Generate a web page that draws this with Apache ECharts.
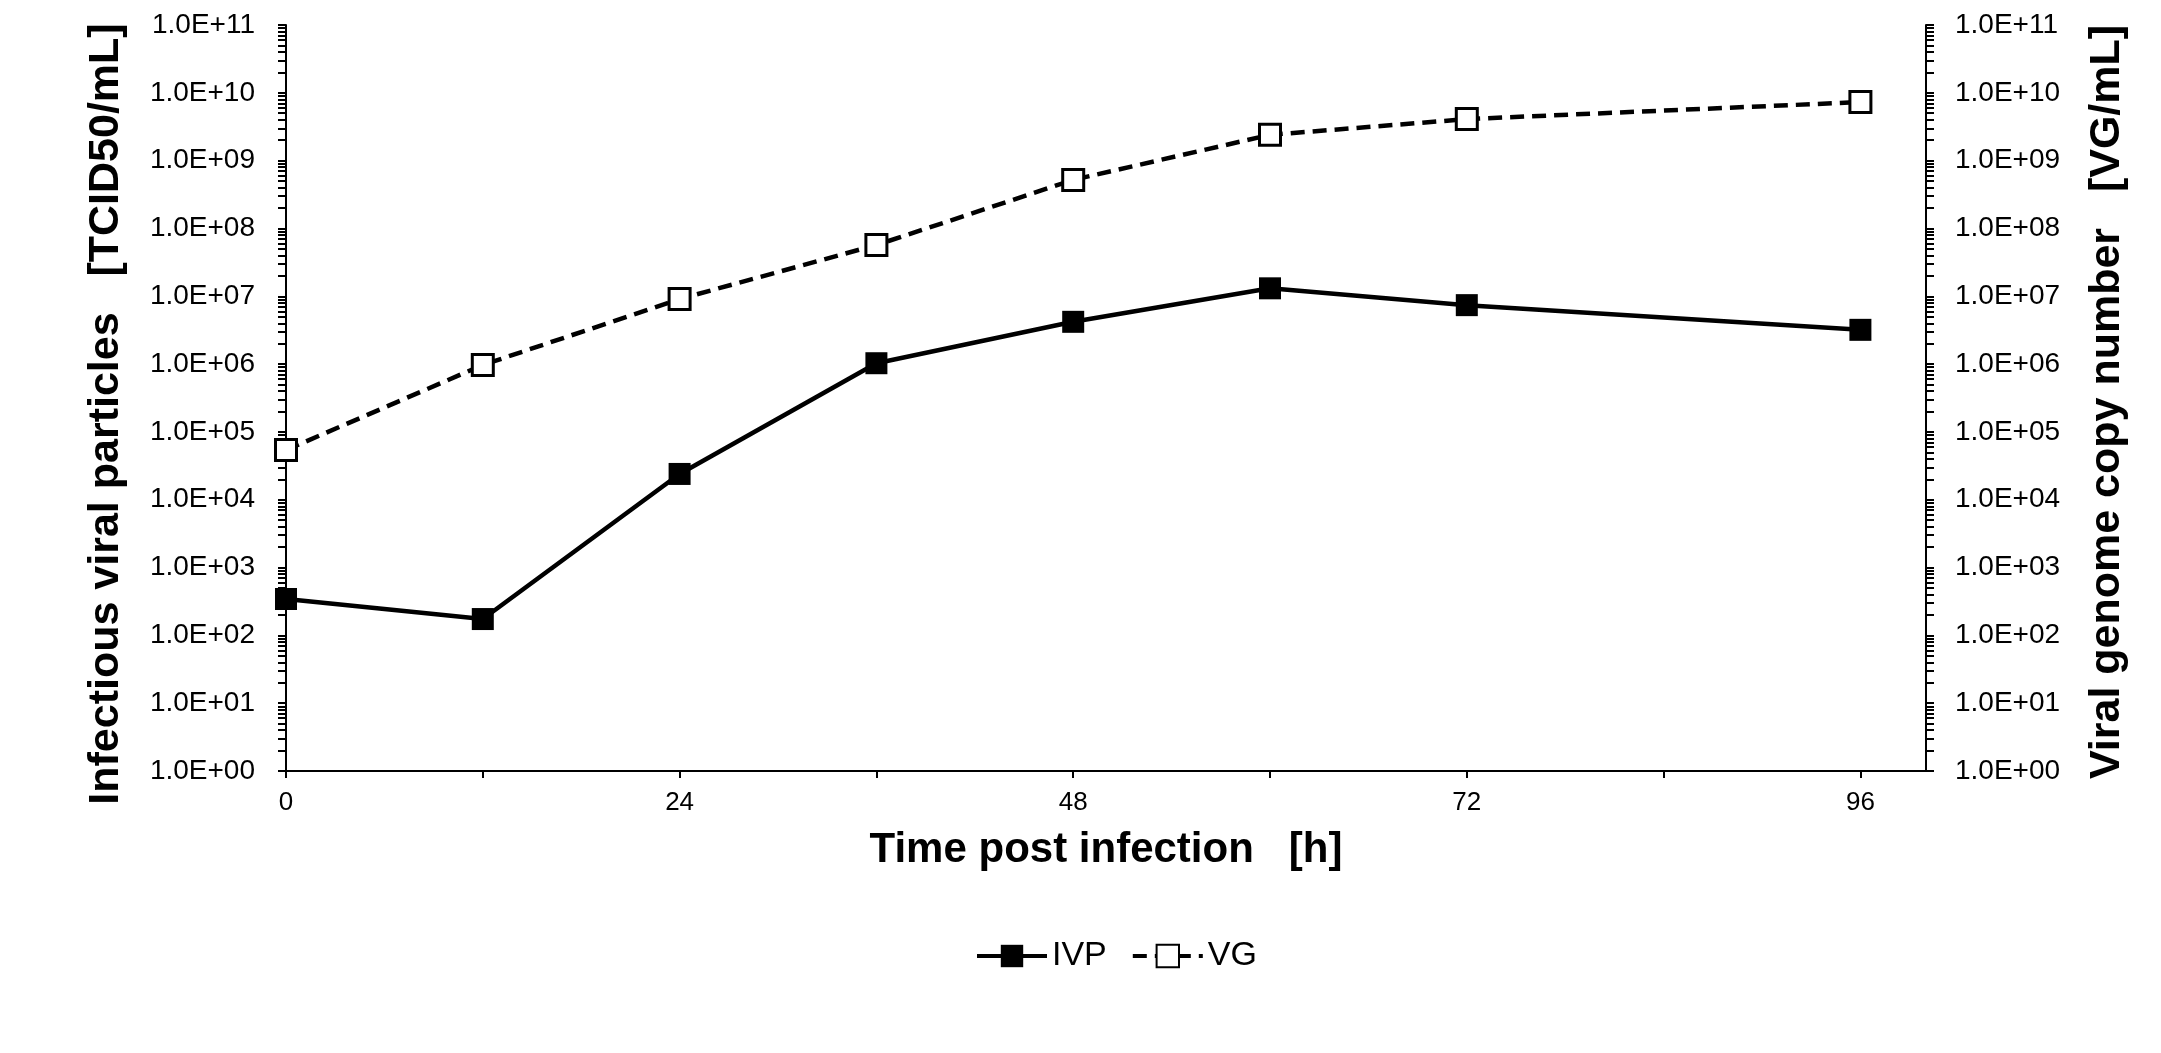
<!DOCTYPE html>
<html><head><meta charset="utf-8">
<script src="https://cdn.jsdelivr.net/npm/echarts@6/dist/echarts.min.js"></script>
<style>html,body{margin:0;padding:0;background:#fff}#c{width:2161px;height:1053px}</style>
</head><body><div id="c"></div>
<script>
// Data
const hours = [0, 12, 24, 36, 48, 60, 72, 96];
const ivp = [344, 174, 2.4e4, 1.03e6, 4.2e6, 1.31e7, 7.4e6, 3.2e6];
const vg = [5.4e4, 9.7e5, 9.1e6, 5.7e7, 5.2e8, 2.4e9, 4.1e9, 7.3e9];
const seriesNames = ['IVP', 'VG'];

// Axis ticks / labels
const xTickValues = [0, 12, 24, 36, 48, 60, 72, 84, 96];
const xLabelValues = [0, 24, 48, 72, 96];
const yExponents = [0, 1, 2, 3, 4, 5, 6, 7, 8, 9, 10, 11];
const yLabelTexts = ['1.0E+00','1.0E+01','1.0E+02','1.0E+03','1.0E+04','1.0E+05','1.0E+06','1.0E+07','1.0E+08','1.0E+09','1.0E+10','1.0E+11'];
const minorFactors = [1, 2, 3, 4, 5, 6, 7, 8, 9];

const xTitle = 'Time post infection   [h]';
const yLeftTitle = 'Infectious viral particles   [TCID50/mL]';
const yRightTitle = 'Viral genome copy number   [VG/mL]';

const FONT = '"Liberation Sans", Arial, sans-serif';
const yLabelValues = yExponents.map(e => Math.pow(10, e));
const yTickValues = [];
yExponents.forEach(e => {
  if (e === 11) { yTickValues.push(Math.pow(10, e)); return; }
  minorFactors.forEach(f => yTickValues.push(f * Math.pow(10, e)));
});
function yFmt(v) {
  const e = Math.round(Math.log10(v));
  const i = yExponents.indexOf(e);
  return i >= 0 ? yLabelTexts[i] : '';
}

function yAxis(pos, title) {
  return {
    type: 'log', logBase: 10, min: 1, max: 1e11, interval: 1,
    position: pos,
    name: title, nameLocation: 'middle', nameRotate: 90,
    nameGap: pos === 'left' ? 158 : 160,
    nameTextStyle: { fontFamily: FONT, fontSize: 43, fontWeight: 'bold', color: '#000',
      padding: pos === 'left' ? [0, 32, 0, 0] : [0, 8, 0, 0] },
    axisLine: { show: true, onZero: false, lineStyle: { color: '#000', width: 2 } },
    axisTick: { show: true, inside: false, length: 8, customValues: yTickValues, lineStyle: { color: '#000', width: 2 } },
    axisLabel: { show: true, customValues: yLabelValues, formatter: yFmt, margin: pos === 'left' ? 31 : 29,
      fontFamily: FONT, fontSize: 28, color: '#000' },
    splitLine: { show: false }, minorTick: { show: false }
  };
}

const chart = echarts.init(document.getElementById('c'), null, { renderer: 'canvas' });
chart.setOption({
  animation: false,
  backgroundColor: '#fff',
  grid: { left: 286, right: 235, top: 25, bottom: 282, containLabel: false },
  xAxis: {
    type: 'value', min: 0, max: 100, interval: 12,
    name: xTitle, nameLocation: 'middle', nameGap: 58,
    nameTextStyle: { fontFamily: FONT, fontSize: 42, fontWeight: 'bold', color: '#000' },
    axisLine: { show: true, onZero: false, lineStyle: { color: '#000', width: 2 } },
    axisTick: { show: true, length: 7, customValues: xTickValues, lineStyle: { color: '#000', width: 2 } },
    axisLabel: { customValues: xLabelValues, margin: 19, fontFamily: FONT, fontSize: 26, color: '#000' },
    splitLine: { show: false }
  },
  yAxis: [yAxis('left', yLeftTitle), yAxis('right', yRightTitle)],
  legend: {
    data: seriesNames, left: 970, top: 934, itemWidth: 70, itemHeight: 28, itemGap: 24,
    lineStyle: { width: 4 },
    textStyle: { fontFamily: FONT, fontSize: 34, color: '#000' }
  },
  series: [
    {
      name: seriesNames[0], type: 'line', yAxisIndex: 0,
      data: hours.map((h, i) => [h, ivp[i]]),
      symbol: 'rect', symbolSize: 22,
      lineStyle: { color: '#000', width: 4.5 },
      itemStyle: { color: '#000', borderColor: '#000', borderWidth: 0 }
    },
    {
      name: seriesNames[1], type: 'line', yAxisIndex: 1,
      data: hours.map((h, i) => [h, vg[i]]),
      symbol: 'rect', symbolSize: 21,
      lineStyle: { color: '#000', width: 4.5, type: [14, 8] },
      itemStyle: { color: '#fff', borderColor: '#000', borderWidth: 3 }
    }
  ]
});
</script></body></html>
